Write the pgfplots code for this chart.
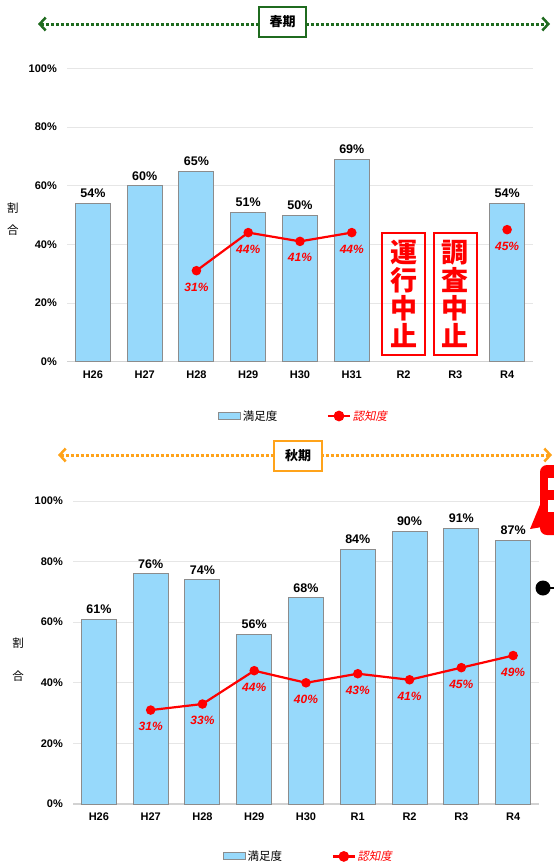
\documentclass[border=0pt]{standalone}
\usepackage{pgfplots}
\pgfplotsset{compat=1.18}
\usetikzlibrary{arrows.meta}
\usepackage{fontspec}
\setmainfont{Liberation Sans}
\newfontfamily\jp{Noto Sans CJK JP}
\newfontfamily\jpit[FakeSlant=0.2]{Noto Sans CJK JP}

\definecolor{barblue}{HTML}{97D9FB}
\definecolor{baredge}{HTML}{8C8C8C}
\definecolor{gridgray}{HTML}{E6E6E6}
\definecolor{hdrgreen}{HTML}{1F6B1F}
\definecolor{hdrorange}{HTML}{FFA31A}
\definecolor{lred}{HTML}{FF0000}

\tikzset{
  header/.style={line width=3pt, dash pattern=on 3pt off 2pt,
    {Straight Barb[length=6pt,width=13pt,line width=2.5pt]}-{Straight Barb[length=6pt,width=13pt,line width=2.5pt]}},
}

\pgfplotsset{
  kaiko/.style={
    scale only axis, width=466pt,
    xmin=-0.5, xmax=8.5, ymin=0, ymax=100,
    xtick={0,...,8}, ytick={0,20,...,100},
    yticklabels={0\%,20\%,40\%,60\%,80\%,100\%},
    /pgf/number format/assume math mode=true,
    major tick length=0pt,
    axis line style={draw=none},
    ymajorgrids, grid style={gridgray, line width=0.8pt},
    tick label style={font=\fontsize{11}{13}\selectfont\bfseries},
    yticklabel style={inner sep=0pt, xshift=-10pt},
    xticklabel style={inner sep=0pt, yshift=-9pt},
    ylabel style={font=\fontsize{11.5}{22}\selectfont\jp, rotate=-90, align=center, anchor=center},
    clip=false,
    legend columns=2,
    legend style={draw=none, fill=none, anchor=center, inner sep=0pt,
      font=\fontsize{11.5}{13}\selectfont\jp,
      nodes={inner sep=1.5pt},
      /tikz/every even column/.append style={column sep=48pt}},
  },
  satisf/.style={ybar, bar width=35pt, bar shift=0pt, fill=barblue, draw=baredge, line width=1pt,
    nodes near coords={\pgfmathprintnumber{\pgfplotspointmeta}\%},
    every node near coord/.append style={font=\fontsize{12.5}{14}\selectfont\bfseries, black, inner sep=0pt, anchor=south, yshift=5pt},
    legend image code/.code={\draw[fill=barblue, draw=baredge, line width=1pt] (0pt,-3.5pt) rectangle (22pt,3.5pt);}},
  ninchi/.style={lred, line width=2.2pt, mark=*, mark size=3.6pt, mark options={fill=lred},
    nodes near coords={\pgfmathprintnumber{\pgfplotspointmeta}\%},
    every node near coord/.append style={font=\fontsize{12}{14}\selectfont\bfseries\itshape, lred, inner sep=0pt, anchor=north, yshift=-11pt},
    legend image code/.code={\draw[lred, line width=2.2pt] (0pt,0pt) -- (22pt,0pt); \fill[lred] (11pt,0pt) circle (4.2pt);}},
}

\begin{document}
\begin{tikzpicture}
\useasboundingbox (0pt,0pt) rectangle (554pt,-865pt);
\clip (0pt,0pt) rectangle (554pt,-865pt);

% spring header
\draw[hdrgreen, header] (38pt,-24pt) -- (550pt,-24pt);
\node[draw=hdrgreen, line width=2pt, fill=white, minimum width=47pt, minimum height=30pt,
  font=\fontsize{13}{15}\selectfont\jp\bfseries] at (282.5pt,-22pt) {春期};

\begin{axis}[kaiko, height=293pt, at={(67pt,-361.5pt)}, anchor=south west,
  xticklabels={H26,H27,H28,H29,H30,H31,R2,R3,R4},
  ylabel={割\\合}, ylabel style={at={(axis description cs:-0.116,0.486)}},
  legend style={at={(axis description cs:0.5075,-0.186)}}]
\draw[gray!35, line width=1.5pt] (axis cs:-0.5,0) -- (axis cs:8.5,0);
\addplot[satisf] coordinates {(0,54)(1,60)(2,65)(3,51)(4,50)(5,69)(8,54)};
\addlegendentry{満足度}
\addplot[ninchi] coordinates {(2,31)(3,44)(4,41)(5,44)};
\addlegendentry{\textcolor{lred}{\jpit 認知度}}
\addplot[ninchi, forget plot] coordinates {(8,45)};
\node[draw=lred, line width=2pt, minimum width=43pt, minimum height=122pt, inner sep=0pt,
  text=lred, align=center, font=\fontsize{27}{28}\selectfont\jp\bfseries]
  at (axis cs:6,23) {運\\行\\中\\止};
\node[draw=lred, line width=2pt, minimum width=43pt, minimum height=122pt, inner sep=0pt,
  text=lred, align=center, font=\fontsize{27}{28}\selectfont\jp\bfseries]
  at (axis cs:7,23) {調\\査\\中\\止};
\end{axis}

% autumn header
\draw[hdrorange, header] (58pt,-455pt) -- (552pt,-455pt);
\node[draw=hdrorange, line width=2pt, fill=white, minimum width=48pt, minimum height=30pt,
  font=\fontsize{13}{15}\selectfont\jp\bfseries] at (298pt,-456pt) {秋期};

\begin{axis}[kaiko, height=303pt, at={(73pt,-804pt)}, anchor=south west,
  xticklabels={H26,H27,H28,H29,H30,R1,R2,R3,R4},
  ylabel={割\\合}, ylabel style={at={(axis description cs:-0.118,0.477)}, font=\fontsize{11.5}{33}\selectfont\jp},
  legend style={at={(axis description cs:0.505,-0.173)}}]
\draw[gray!35, line width=1.5pt] (axis cs:-0.5,0) -- (axis cs:8.5,0);
\addplot[satisf] coordinates {(0,61)(1,76)(2,74)(3,56)(4,68)(5,84)(6,90)(7,91)(8,87)};
\addlegendentry{満足度}
\addplot[ninchi] coordinates {(1,31)(2,33)(3,44)(4,40)(5,43)(6,41)(7,45)(8,49)};
\addlegendentry{\textcolor{lred}{\jpit 認知度}}
\end{axis}

% cut-off callout and marker at the right edge
\fill[lred, rounded corners=7pt] (540pt,-465pt) rectangle (580pt,-535pt);
\fill[lred] (542pt,-500pt) -- (530pt,-529pt) -- (548pt,-526pt) -- cycle;
\fill[white] (548pt,-478pt) rectangle (554pt,-490pt);
\fill[white] (548pt,-500pt) rectangle (554pt,-512pt);
\fill[black] (543pt,-588pt) circle (7.5pt);
\draw[black, line width=1.5pt] (543pt,-588pt) -- (556pt,-588pt);
\end{tikzpicture}
\end{document}
